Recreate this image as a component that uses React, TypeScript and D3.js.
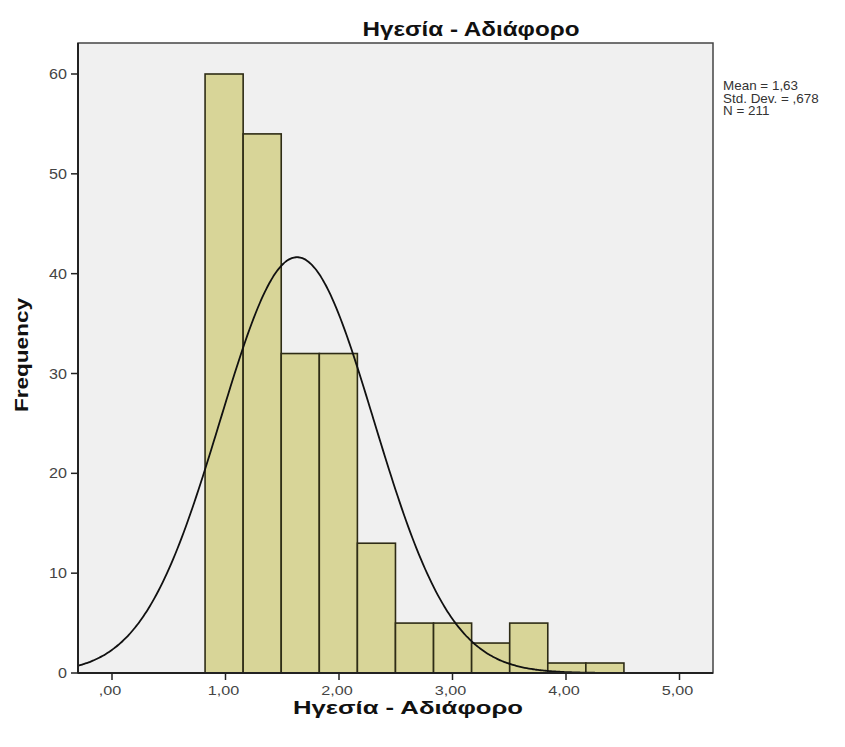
import React from "react";
import * as d3 from "d3";

const title = "Ηγεσία - Αδιάφορο";
const xLabel = "Ηγεσία - Αδιάφορο";
const yLabel = "Frequency";
const binStart = 0.82;
const binWidth = 0.3355;
const counts = [60, 54, 32, 32, 13, 5, 5, 3, 5, 1, 1];
const xTicks = [0, 1, 2, 3, 4, 5];
const xTickLabels = [",00", "1,00", "2,00", "3,00", "4,00", "5,00"];
const yTicks = [0, 10, 20, 30, 40, 50, 60];
const mean = 1.63;
const sd = 0.678;
const n = 211;
const statLines = ["Mean = 1,63", "Std. Dev. = ,678", "N = 211"];

export default function App() {
  const W = 845, H = 747;
  const left = 78, right = 713, top = 43, bottom = 673;
  const x = d3.scaleLinear().domain([0, 5]).range([112, 679.5]);
  const xMin = x.invert(left), xMax = x.invert(right);
  const y = d3.scaleLinear().domain([0, 60]).range([bottom, 74]);

  const bins = counts.map((c, i) => ({ x0: binStart + i * binWidth, x1: binStart + (i + 1) * binWidth, c }));
  const pts = d3.range(0, 301).map(i => xMin + (xMax - xMin) * i / 300);
  const dens = (v: number) => n * binWidth * Math.exp(-0.5 * ((v - mean) / sd) ** 2) / (sd * Math.sqrt(2 * Math.PI));
  const line = d3.line<number>().x(v => x(v)).y(v => y(dens(v))).curve(d3.curveBasis);

  const font = "'Liberation Sans', Arial, sans-serif";
  return (
    <svg width={W} height={H} style={{ position: "absolute", left: 0, top: 0, background: "#fff" }} fontFamily={font}>
      <rect x={0} y={0} width={W} height={H} fill="#fff" />
      <rect x={left} y={top} width={right - left} height={bottom - top} fill="#F0F0F0" stroke="#444" strokeWidth={1.5} />
      {bins.map((b, i) => (
        <rect key={i} x={x(b.x0)} y={y(b.c)} width={x(b.x1) - x(b.x0)} height={bottom - y(b.c)}
          fill="#D8D598" stroke="#2E2C16" strokeWidth={1.6} />
      ))}
      <path d={line(pts) || ""} fill="none" stroke="#111" strokeWidth={1.8} />
      <line x1={left} x2={right} y1={bottom} y2={bottom} stroke="#222" strokeWidth={2} />
      <line x1={left} x2={left} y1={top} y2={bottom} stroke="#222" strokeWidth={2} />
      {yTicks.map(t => (
        <g key={t}>
          <line x1={left - 7} x2={left} y1={y(t)} y2={y(t)} stroke="#222" strokeWidth={1.5} />
          <text transform={`translate(${left - 11},${y(t) + 5}) scale(1.15,1)`} textAnchor="end" fontSize={14} fill="#444">{t}</text>
        </g>
      ))}
      {xTicks.map((t, i) => (
        <g key={t}>
          <line x1={x(t)} x2={x(t)} y1={bottom} y2={bottom + 7} stroke="#222" strokeWidth={1.5} />
          <text transform={`translate(${x(t) - 2},${bottom + 22}) scale(1.2,1)`} textAnchor="middle" fontSize={13.5} fill="#444">{xTickLabels[i]}</text>
        </g>
      ))}
      <text x={471} y={36} textAnchor="middle" fontSize={20} fontWeight="bold" fill="#111"
        textLength={217} lengthAdjust="spacingAndGlyphs">{title}</text>
      <text x={408} y={714} textAnchor="middle" fontSize={18} fontWeight="bold" fill="#111"
        textLength={230} lengthAdjust="spacingAndGlyphs">{xLabel}</text>
      <text transform={`translate(28,${355}) rotate(-90)`} textAnchor="middle" fontSize={18} fontWeight="bold" fill="#111"
        textLength={114} lengthAdjust="spacingAndGlyphs">{yLabel}</text>
      {statLines.map((s, i) => (
        <text key={i} transform={`translate(723,${90 + i * 12.5}) scale(1.12,1)`} fontSize={12} fill="#333">{s}</text>
      ))}
    </svg>
  );
}
